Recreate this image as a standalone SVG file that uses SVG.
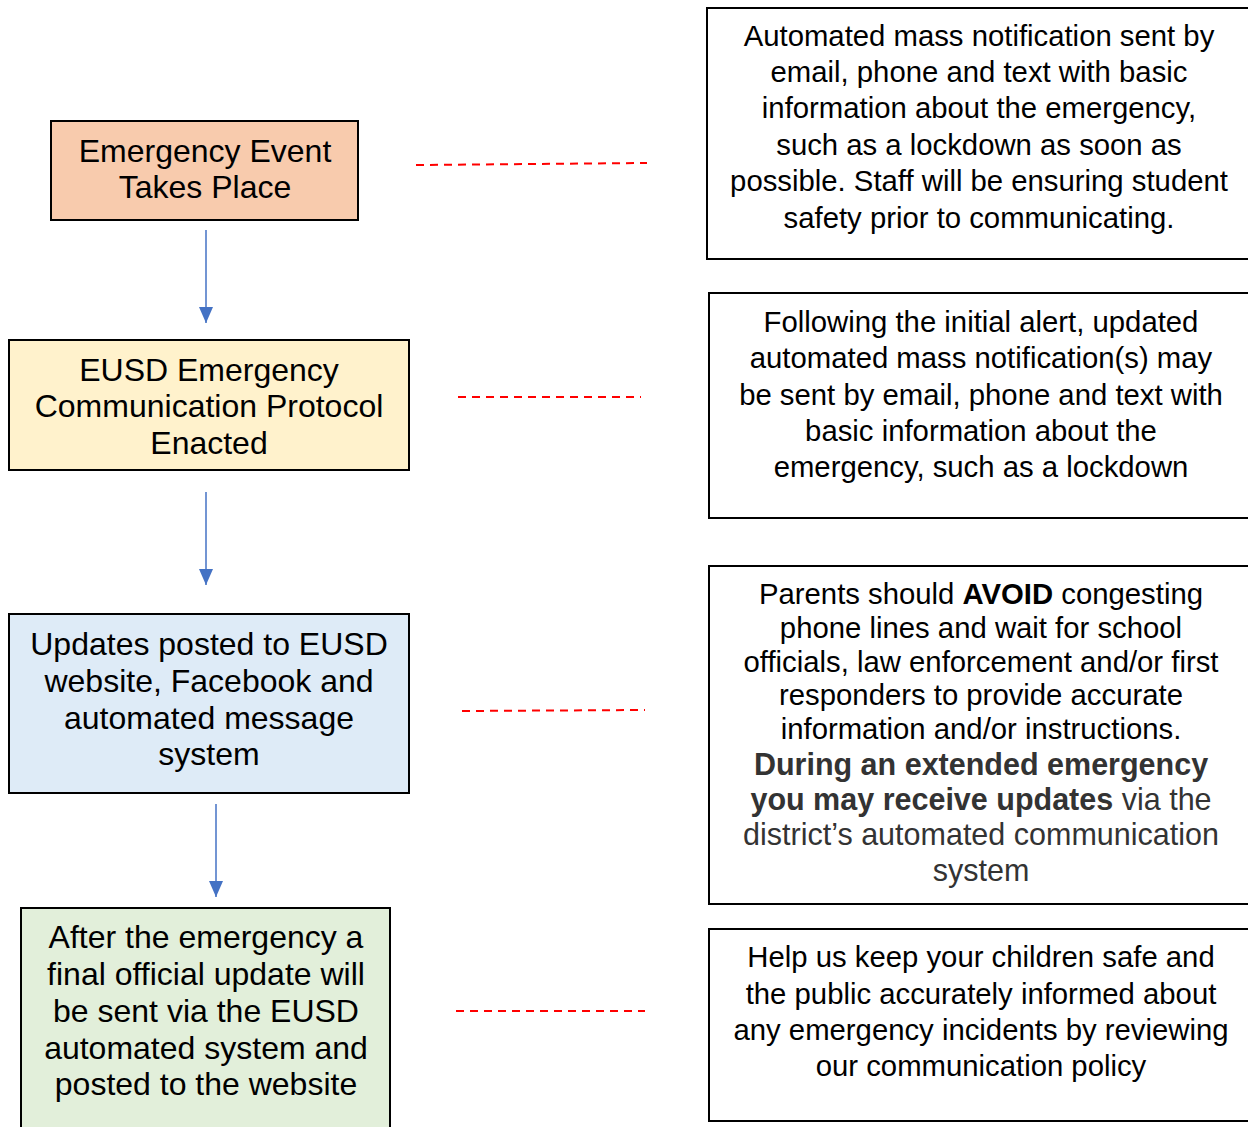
<svg xmlns="http://www.w3.org/2000/svg" width="1248" height="1127" viewBox="0 0 1248 1127">
<defs>
<marker id="ah" markerWidth="16" markerHeight="14" refX="16" refY="7" orient="auto" markerUnits="userSpaceOnUse">
<path d="M0,0 L16,7 L0,14 Z" fill="#4472C4"/>
</marker>
<style>
.box{stroke:#000;stroke-width:2}
.rbox{fill:#fff;stroke:#000;stroke-width:2}
.lt{font-family:"Liberation Sans",Arial,sans-serif;font-size:32px;fill:#000;text-anchor:middle}
.rt{font-family:"Liberation Sans",Arial,sans-serif;font-size:29.3px;fill:#000;text-anchor:middle}
.gt{font-family:"Liberation Sans",Arial,sans-serif;font-size:30.5px;fill:#333;text-anchor:middle}
.b{font-weight:bold}
.arrow{stroke:#4472C4;stroke-width:1.5;fill:none}
.dash{stroke:#FF0000;stroke-width:2;stroke-dasharray:8 6;fill:none}
</style>
</defs>
<rect width="1248" height="1127" fill="#fff"/>
<g id="connectors">
<line class="arrow" x1="206" y1="230" x2="206" y2="323" marker-end="url(#ah)"/>
<line class="arrow" x1="206" y1="492" x2="206" y2="585" marker-end="url(#ah)"/>
<line class="arrow" x1="216" y1="804" x2="216" y2="897" marker-end="url(#ah)"/>
<line class="dash" x1="416" y1="165" x2="647" y2="163"/>
<line class="dash" x1="458" y1="397" x2="641" y2="397"/>
<line class="dash" x1="462" y1="711" x2="645" y2="710"/>
<line class="dash" x1="456" y1="1011" x2="645" y2="1011"/>
</g>
<g id="node-event">
<rect class="box" x="51" y="121" width="307" height="99" fill="#F8CBAD"/>
<text class="lt" x="205" y="162">Emergency Event</text>
<text class="lt" x="205" y="198">Takes Place</text>
</g>
<g id="node-protocol">
<rect class="box" x="9" y="340" width="400" height="130" fill="#FFF2CC"/>
<text class="lt" x="209" y="381">EUSD Emergency</text>
<text class="lt" x="209" y="417">Communication Protocol</text>
<text class="lt" x="209" y="454">Enacted</text>
</g>
<g id="node-updates">
<rect class="box" x="9" y="614" width="400" height="179" fill="#DEEBF7"/>
<text class="lt" x="209" y="655">Updates posted to EUSD</text>
<text class="lt" x="209" y="692">website, Facebook and</text>
<text class="lt" x="209" y="729">automated message</text>
<text class="lt" x="209" y="765">system</text>
</g>
<g id="node-final">
<rect class="box" x="21" y="908" width="369" height="230" fill="#E2EFDA"/>
<text class="lt" x="206" y="948">After the emergency a</text>
<text class="lt" x="206" y="985">final official update will</text>
<text class="lt" x="206" y="1022">be sent via the EUSD</text>
<text class="lt" x="206" y="1059">automated system and</text>
<text class="lt" x="206" y="1095">posted to the website</text>
</g>
<g id="note-1">
<rect class="rbox" x="707" y="8" width="545" height="251"/>
<text class="rt" x="979" y="46">Automated mass notification sent by</text>
<text class="rt" x="979" y="82">email, phone and text with basic</text>
<text class="rt" x="979" y="118">information about the emergency,</text>
<text class="rt" x="979" y="155">such as a lockdown as soon as</text>
<text class="rt" x="979" y="191">possible. Staff will be ensuring student</text>
<text class="rt" x="979" y="228">safety prior to communicating.</text>
</g>
<g id="note-2">
<rect class="rbox" x="709" y="293" width="543" height="225"/>
<text class="rt" x="981" y="332">Following the initial alert, updated</text>
<text class="rt" x="981" y="368">automated mass notification(s) may</text>
<text class="rt" x="981" y="405">be sent by email, phone and text with</text>
<text class="rt" x="981" y="441">basic information about the</text>
<text class="rt" x="981" y="477">emergency, such as a lockdown</text>
</g>
<g id="note-3">
<rect class="rbox" x="709" y="566" width="543" height="338"/>
<text class="rt" x="981" y="604">Parents should <tspan class="b">AVOID</tspan> congesting</text>
<text class="rt" x="981" y="638">phone lines and wait for school</text>
<text class="rt" x="981" y="672">officials, law enforcement and/or first</text>
<text class="rt" x="981" y="705">responders to provide accurate</text>
<text class="rt" x="981" y="739">information and/or instructions.</text>
<text class="gt b" x="981" y="775">During an extended emergency</text>
<text class="gt" x="981" y="810"><tspan class="b">you may receive updates</tspan> via the</text>
<text class="gt" x="981" y="845">district’s automated communication</text>
<text class="gt" x="981" y="881">system</text>
</g>
<g id="note-4">
<rect class="rbox" x="709" y="929" width="543" height="192"/>
<text class="rt" x="981" y="967">Help us keep your children safe and</text>
<text class="rt" x="981" y="1004">the public accurately informed about</text>
<text class="rt" x="981" y="1040">any emergency incidents by reviewing</text>
<text class="rt" x="981" y="1076">our communication policy</text>
</g>
</svg>
